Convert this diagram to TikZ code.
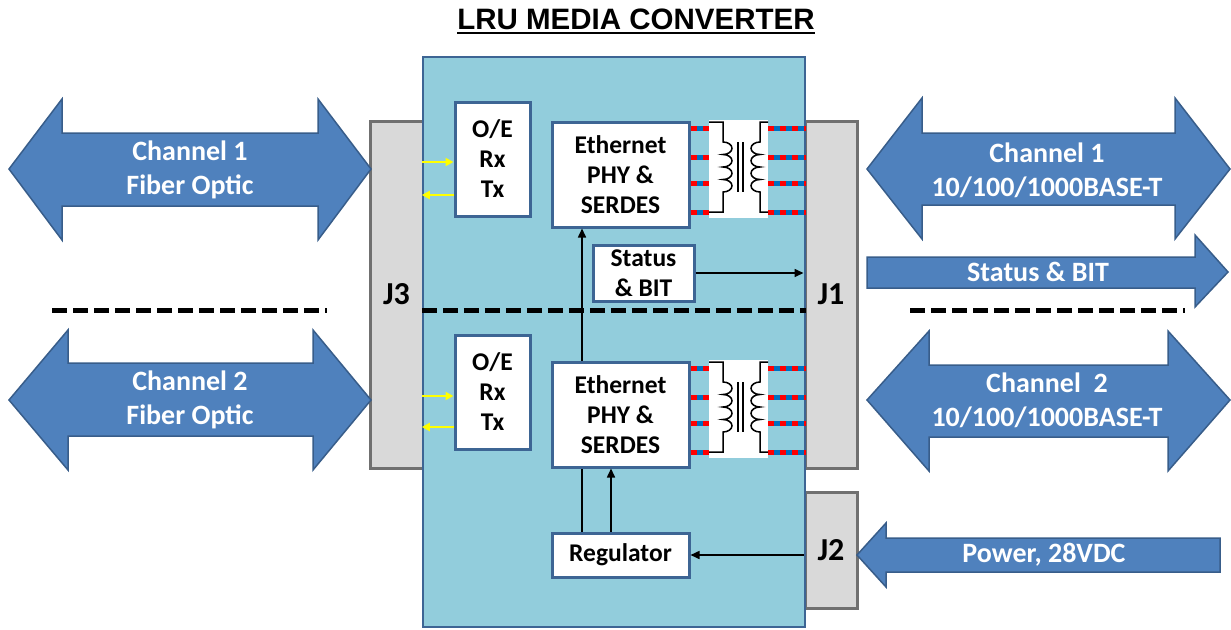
\documentclass[tikz,border=0pt]{standalone}
\usepackage{fontspec}
\setmainfont{Carlito}
\newfontfamily\arialfont{Liberation Sans}
\usetikzlibrary{arrows.meta}
\definecolor{boxblue}{HTML}{92CDDC}
\definecolor{edgeblue}{HTML}{3D6594}
\definecolor{arrowfill}{HTML}{4F81BD}
\definecolor{arrowedge}{HTML}{385D8A}
\definecolor{jgray}{HTML}{D9D9D9}
\definecolor{jedge}{HTML}{707070}
\definecolor{wireblue}{HTML}{0070C0}
\definecolor{wirered}{HTML}{FF0000}
\definecolor{yel}{HTML}{FFFF00}
\tikzset{
  blockbox/.style={draw=edgeblue, line width=3pt, fill=white, inner sep=0, align=center, font=\fontsize{25.5}{30}\selectfont\bfseries},
  jbox/.style={draw=jedge, fill=jgray, line width=3pt, inner sep=0, font=\fontsize{32}{34}\selectfont\bfseries},
  bigarrow/.style={fill=arrowfill, draw=arrowedge, line width=1.5pt, line join=miter},
  arrowtext/.style={text=white, align=center, font=\fontsize{28}{34}\selectfont\bfseries, inner sep=0},
  sig/.style={line width=1.6pt, -{Triangle[length=9pt,width=8pt]}},
  plainwire/.style={line width=1.6pt},
  yarr/.style={draw=yel, line width=2pt, -{Triangle[length=8pt,width=8pt]}},
  sepdash/.style={line width=5pt, dash pattern=on 15pt off 6pt},
  wireb/.style={draw=wireblue, line width=5pt},
  wirer/.style={draw=wirered, line width=5pt, dash pattern=on 6pt off 6pt},
  coil/.style={line width=1.5pt}
}
\begin{document}
\begin{tikzpicture}[x=1pt,y=-1pt]
\useasboundingbox (0,0) rectangle (1231,629);

% title
\node[font=\arialfont\bfseries\fontsize{29.5}{30}\selectfont, inner sep=0, anchor=base] (title) at (636,29) {LRU MEDIA CONVERTER};
\draw[line width=2.2pt] ([yshift=-4pt]title.base west) -- ([yshift=-4pt]title.base east);

% connectors J
\node[jbox, minimum width=53pt, minimum height=347pt] (j3) at (396.5,294.5) {J3};
\node[jbox, minimum width=52pt, minimum height=347pt] (j1) at (831,294.5) {J1};
\node[jbox, minimum width=52pt, minimum height=116pt] (j2) at (831,550) {J2};

% main box
\node[draw=edgeblue, fill=boxblue, line width=2.5pt, minimum width=382pt, minimum height=570pt, inner sep=0] (main) at (614,342) {};

% blocks
\node[blockbox, minimum width=75pt, minimum height=114pt] (oe1) at (492.5,159) {O/E\\Rx\\Tx};
\node[blockbox, minimum width=75pt, minimum height=114pt] (oe2) at (492.5,392) {O/E\\Rx\\Tx};
\node[blockbox, minimum width=137pt, minimum height=105pt] (eth1) at (620.5,174.5) {Ethernet\\PHY \&\\SERDES};
\node[blockbox, minimum width=137pt, minimum height=105pt] (eth2) at (620.5,414.5) {Ethernet\\PHY \&\\SERDES};
\node[blockbox, minimum width=101pt, minimum height=56pt] (stat) at (643.5,273) {Status\\\& BIT};
\node[blockbox, minimum width=137pt, minimum height=44pt] (reg) at (620.5,555) {Regulator};

% transformers and wires
\foreach \o/\n in {0/1,240/2}{
  \begin{scope}[shift={(0,\o)}]
    \node[fill=white, minimum width=59pt, minimum height=98pt, inner sep=0] (xf\n) at (738.5,169) {};
    \foreach \w in {128,157,183,212}{
      \draw[wireb] (eth\n.east |- 0,\w) -- (xf\n.west |- 0,\w);
      \draw[wirer] (eth\n.east |- 0,\w) -- (xf\n.west |- 0,\w);
      \draw[wireb] (xf\n.east |- 0,\w) -- (main.east |- 0,\w);
      \draw[wirer] (xf\n.east |- 0,\w) -- (main.east |- 0,\w);
    }
    \draw[coil] (709,122) -- (723,122) -- (723,142)
      arc[start angle=-90,end angle=90,x radius=9,y radius=6.25]
      arc[start angle=-90,end angle=90,x radius=9,y radius=6.25]
      arc[start angle=-90,end angle=90,x radius=9,y radius=6.25]
      arc[start angle=-90,end angle=90,x radius=9,y radius=6.25]
      -- (723,212) -- (709,212);
    \draw[coil] (768,122) -- (760,122) -- (760,142)
      arc[start angle=-90,end angle=-270,x radius=9,y radius=6.25]
      arc[start angle=-90,end angle=-270,x radius=9,y radius=6.25]
      arc[start angle=-90,end angle=-270,x radius=9,y radius=6.25]
      arc[start angle=-90,end angle=-270,x radius=9,y radius=6.25]
      -- (760,212) -- (768,212);
    \draw[coil] (738,142) -- (738,192);
    \draw[coil] (743,142) -- (743,192);
  \end{scope}
}

% yellow optical arrows
\draw[yarr] (main.west |- 0,162) -- (oe1.west |- 0,162);
\draw[yarr] (oe1.west |- 0,195) -- (main.west |- 0,195);
\draw[yarr] (main.west |- 0,396) -- (oe2.west |- 0,396);
\draw[yarr] (oe2.west |- 0,427) -- (main.west |- 0,427);

% internal signal lines
\draw[sig] (eth2.north -| 582,0) -- (eth1.south -| 582,0);
\draw[plainwire] (reg.north -| 582,0) -- (eth2.south -| 582,0);
\draw[sig] (reg.north -| 611,0) -- (eth2.south -| 611,0);
\draw[sig] (stat.east) -- (j1.west |- stat.east);
\draw[sig] (j2.west |- reg.east) -- (reg.east);

% separators
\coordinate (dl1) at (52,310);
\coordinate (dl2) at (327,310);
\coordinate (dr1) at (910,310);
\coordinate (dr2) at (1185,310);
\draw[sepdash] (dl1) -- (dl2);
\draw[sepdash] (main.west |- 0,310) -- (main.east |- 0,310);
\draw[sepdash] (dr1) -- (dr2);

% big arrows left
\draw[bigarrow] (9,169) -- (62,99) -- (62,133) -- (318,133) -- (318,99) -- (371,169) -- (318,240) -- (318,206) -- (62,206) -- (62,240) -- cycle;
\node[arrowtext] (lch1) at (190,170) {Channel 1\\Fiber Optic};
\draw[bigarrow] (9,400) -- (68,330) -- (68,363) -- (313,363) -- (313,330) -- (371,400) -- (313,470) -- (313,436) -- (68,436) -- (68,470) -- cycle;
\node[arrowtext] (lch2) at (190,400) {Channel 2\\Fiber Optic};

% big arrows right
\draw[bigarrow] (867,169) -- (922,98) -- (922,133) -- (1175,133) -- (1175,98) -- (1230,169) -- (1175,239) -- (1175,205) -- (922,205) -- (922,239) -- cycle;
\node[arrowtext] (rch1) at (1047,170) {Channel 1\\10/100/1000BASE-T};
\draw[bigarrow] (867,400) -- (929,331) -- (929,365) -- (1168,365) -- (1168,331) -- (1230,400) -- (1168,471) -- (1168,437) -- (929,437) -- (929,471) -- cycle;
\node[arrowtext] (rch2) at (1047,400) {Channel\ \ 2\\10/100/1000BASE-T};
\draw[bigarrow] (867,257) -- (1195,257) -- (1195,235) -- (1228,272) -- (1195,307) -- (1195,288) -- (867,288) -- cycle;
\node[arrowtext] (sbit) at (1038,272) {Status \& BIT};
\draw[bigarrow] (857,555) -- (886,523) -- (886,538) -- (1220,538) -- (1220,572) -- (886,572) -- (886,587) -- cycle;
\node[arrowtext] (pwr) at (1044,555) {Power, 28VDC};
\end{tikzpicture}
\end{document}
